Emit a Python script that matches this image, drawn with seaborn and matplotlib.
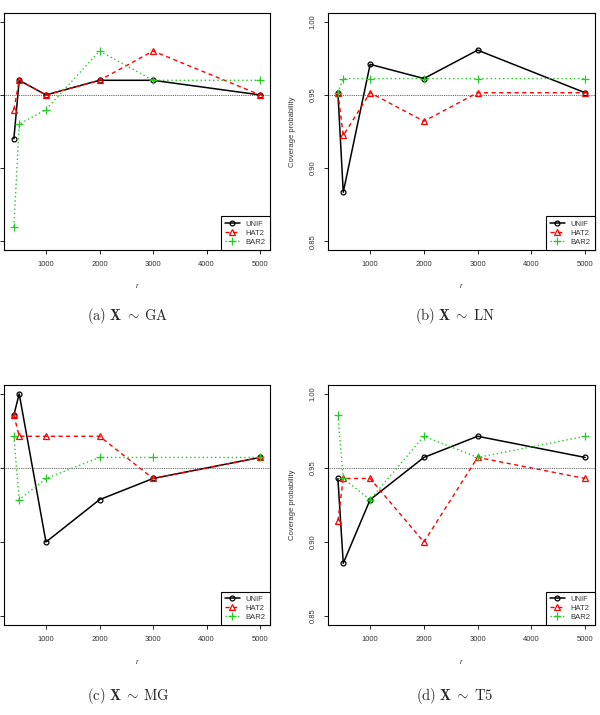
import matplotlib
matplotlib.use("Agg")
import matplotlib.pyplot as plt
import pandas as pd
import seaborn as sns

# 数据：各方法在不同 r 下的覆盖概率
r_values = [400, 500, 1000, 2000, 3000, 5000]
methods = ["UNIF", "HAT2", "BAR2"]

ga_unif = [0.92, 0.96, 0.95, 0.96, 0.96, 0.95]
ga_hat2 = [0.94, 0.96, 0.95, 0.96, 0.98, 0.95]
ga_bar2 = [0.86, 0.93, 0.94, 0.98, 0.96, 0.96]

ln_unif = [0.9515, 0.8835, 0.9709, 0.9612, 0.9806, 0.9515]
ln_hat2 = [0.9515, 0.9223, 0.9515, 0.9320, 0.9515, 0.9515]
ln_bar2 = [0.9515, 0.9612, 0.9612, 0.9612, 0.9612, 0.9612]

mg_unif = [0.9857, 1.0000, 0.9000, 0.9286, 0.9429, 0.9571]
mg_hat2 = [0.9857, 0.9714, 0.9714, 0.9714, 0.9429, 0.9571]
mg_bar2 = [0.9714, 0.9286, 0.9429, 0.9571, 0.9571, 0.9571]

t5_unif = [0.9429, 0.8857, 0.9286, 0.9571, 0.9714, 0.9571]
t5_hat2 = [0.9143, 0.9429, 0.9429, 0.9000, 0.9571, 0.9429]
t5_bar2 = [0.9857, 0.9429, 0.9286, 0.9714, 0.9571, 0.9714]

captions = [r"$\mathrm{(a)}\ \mathbf{X}\;\sim\;\mathrm{GA}$",
            r"$\mathrm{(b)}\ \mathbf{X}\;\sim\;\mathrm{LN}$",
            r"$\mathrm{(c)}\ \mathbf{X}\;\sim\;\mathrm{MG}$",
            r"$\mathrm{(d)}\ \mathbf{X}\;\sim\;\mathrm{T5}$"]
panel_data = [(ga_unif, ga_hat2, ga_bar2),
              (ln_unif, ln_hat2, ln_bar2),
              (mg_unif, mg_hat2, mg_bar2),
              (t5_unif, t5_hat2, t5_bar2)]

x_ticks = [1000, 2000, 3000, 4000, 5000]
y_ticks = [0.85, 0.90, 0.95, 1.00]
y_ticklabels = ["0.85", "0.90", "0.95", "1.00"]

# 样式
styles = {
    "UNIF": dict(color="black", marker="o", markersize=3.5, dashes=None, lw=1.1),
    "HAT2": dict(color="#FF0000", marker="^", markersize=3.8, dashes=(3, 2.5), lw=1.0),
    "BAR2": dict(color="#22CC22", marker="+", markersize=5.5, dashes=(1, 2), lw=1.0),
}

sns.set_theme(style="white")
plt.rcParams["font.family"] = ["Liberation Sans", "DejaVu Sans"]
plt.rcParams["mathtext.fontset"] = "cm"

fig = plt.figure(figsize=(6, 7.15), dpi=100)
W, H = 600, 715
# 像素坐标：左, 上, 右, 下
boxes = [(4, 13, 270, 250), (328, 13, 595, 250),
         (4, 385, 270, 625), (328, 385, 595, 625)]
caption_pos = [(128, 316), (455, 316), (128, 696), (455, 696)]

for i, (box, vals) in enumerate(zip(boxes, panel_data)):
    l, t, r, b = box
    ax = fig.add_axes([l / W, 1 - b / H, (r - l) / W, (b - t) / H])
    df = pd.DataFrame({"r": r_values * 3,
                       "cp": vals[0] + vals[1] + vals[2],
                       "method": sum([[m] * len(r_values) for m in methods], [])})
    ax.axhline(0.95, color="#333333", linewidth=0.6, dashes=(1, 1.2))
    for m in methods:
        st = styles[m]
        sub = df[df["method"] == m]
        line_ax = sns.lineplot(x=sub["r"], y=sub["cp"], ax=ax, color=st["color"],
                               marker=st["marker"], markersize=st["markersize"],
                               markerfacecolor="none", markeredgecolor=st["color"],
                               markeredgewidth=0.9, linewidth=st["lw"],
                               errorbar=None, label=m)
        if st["dashes"] is not None:
            line_ax.lines[-1].set_dashes(st["dashes"])

    ax.set_xlim(400 - 0.04 * 4600, 5000 + 0.04 * 4600)
    ax.set_ylim(0.844, 1.006)
    ax.set_xticks(x_ticks)
    ax.set_xticklabels([str(v) for v in x_ticks], fontsize=5.5)
    ax.set_yticks(y_ticks)
    ax.set_yticklabels(y_ticklabels, fontsize=5.5, rotation=90, va="center")
    ax.tick_params(direction="out", length=3, width=0.6, color="black", pad=5,
                   bottom=True, left=True, labelcolor="#333333")
    for s in ax.spines.values():
        s.set_visible(True)
        s.set_color("black")
        s.set_linewidth(0.8)

    ax.set_xlabel("r", fontsize=5.5, style="italic", color="#333333")
    ax.xaxis.set_label_coords(0.5, -0.14)
    if i % 2 == 0:
        ax.tick_params(labelleft=False)
        ax.set_ylabel("")
    else:
        ax.set_ylabel("Coverage probability", fontsize=5.5, color="#333333")
        ax.yaxis.set_label_coords(-0.12, 0.5)

    leg = ax.legend(loc="lower right", borderaxespad=0, frameon=True, fancybox=False,
                    edgecolor="black", framealpha=1, fontsize=5.5, handlelength=1.9,
                    borderpad=0.55, labelspacing=0.2, handletextpad=0.8)
    leg.get_frame().set_linewidth(0.8)
    for txt in leg.get_texts():
        txt.set_color("#333333")

    cx, cy = caption_pos[i]
    fig.text(cx / W, 1 - cy / H, captions[i], ha="center", va="center", fontsize=10.5)

fig.savefig("out.png", dpi=100, facecolor="white")
